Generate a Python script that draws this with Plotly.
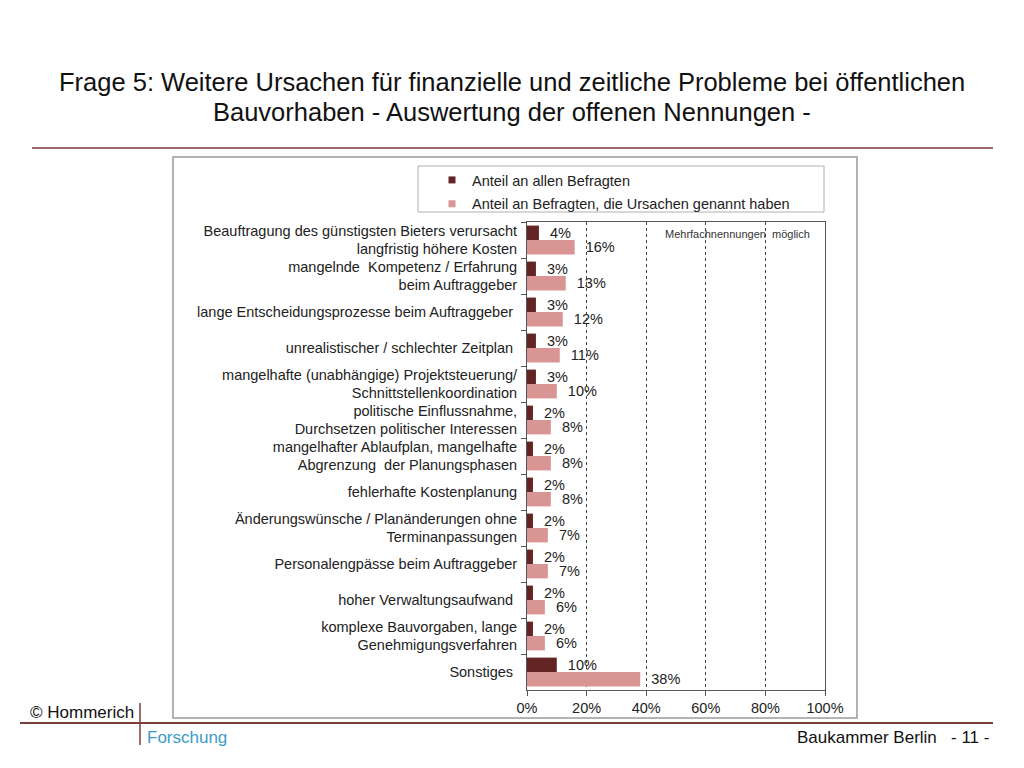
import plotly.graph_objects as go

categories = [
    "Beauftragung des günstigsten Bieters verursacht<br>langfristig höhere Kosten",
    "mangelnde  Kompetenz / Erfahrung<br>beim Auftraggeber",
    "lange Entscheidungsprozesse beim Auftraggeber ",
    "unrealistischer / schlechter Zeitplan ",
    "mangelhafte (unabhängige) Projektsteuerung/<br>Schnittstellenkoordination",
    "politische Einflussnahme,<br>Durchsetzen politischer Interessen",
    "mangelhafter Ablaufplan, mangelhafte<br>Abgrenzung  der Planungsphasen",
    "fehlerhafte Kostenplanung",
    "Änderungswünsche / Planänderungen ohne<br>Terminanpassungen",
    "Personalengpässe beim Auftraggeber",
    "hoher Verwaltungsaufwand ",
    "komplexe Bauvorgaben, lange<br>Genehmigungsverfahren",
    "Sonstiges ",
]
share_all = [4, 3, 3, 3, 3, 2, 2, 2, 2, 2, 2, 2, 10]
share_named = [16, 13, 12, 11, 10, 8, 8, 8, 7, 7, 6, 6, 38]
series_names = ["Anteil an allen Befragten", "Anteil an Befragten, die Ursachen genannt haben"]
x_ticks = [0, 20, 40, 60, 80, 100]
x_ticktext = ["0%", "20%", "40%", "60%", "80%", "100%"]

DARK = "#632523"
LIGHT = "#d99594"
FONT = "Liberation Sans, Arial, sans-serif"

# plot area in page pixels (reference coordinates)
L, R, T, B = 527, 825, 222, 690
W, H = 1024, 768
OFF = 8  # page body margin


def px(x):
    return (x - L) / (R - L)


def py(y):
    return (B - y) / (B - T)


fig = go.Figure()
for name, vals, col in [(series_names[0], share_all, DARK), (series_names[1], share_named, LIGHT)]:
    fig.add_trace(go.Bar(
        y=categories, x=vals, orientation="h", name=name,
        marker=dict(color=col, line=dict(width=0)),
        text=["\u00a0\u00a0" + f"{v}%" for v in vals], textposition="outside",
        constraintext="none",
        textfont=dict(size=14.5, color="#222", family=FONT),
        cliponaxis=False, showlegend=False,
    ))
    fig.add_trace(go.Scatter(
        x=[None], y=[None], mode="markers", name=name, legendgroup=name,
        marker=dict(symbol="square", size=7, color=col),
    ))

shapes = [
    dict(type="rect", xref="paper", yref="paper", x0=px(173), x1=px(857), y0=py(157), y1=py(718),
         line=dict(color="#9a9a9a", width=1.5), layer="below"),
    dict(type="rect", xref="paper", yref="paper", x0=px(418), x1=px(824), y0=py(166), y1=py(212),
         line=dict(color="#b0b0b0", width=1)),
    dict(type="line", xref="paper", yref="paper", x0=px(32), x1=px(993), y0=py(148), y1=py(148),
         line=dict(color="#7b3535", width=1.5)),
    dict(type="line", xref="paper", yref="paper", x0=px(20), x1=px(993), y0=py(723), y1=py(723),
         line=dict(color="#7b3c3c", width=2)),
    dict(type="line", xref="paper", yref="paper", x0=px(140), x1=px(140), y0=py(703), y1=py(745),
         line=dict(color="#7b3c3c", width=1.5)),
]

annotations = [
    dict(text="Frage 5: Weitere Ursachen für finanzielle und zeitliche Probleme bei öffentlichen",
         x=px(512), y=py(82), xanchor="center", yanchor="middle", showarrow=False,
         font=dict(size=25.5, color="#111", family=FONT)),
    dict(text="Bauvorhaben - Auswertung der offenen Nennungen -",
         x=px(512), y=py(112), xanchor="center", yanchor="middle", showarrow=False,
         font=dict(size=25.5, color="#111", family=FONT)),
    dict(text="Mehrfachnennungen  möglich", x=px(663), y=py(234), xanchor="left", yanchor="middle",
         showarrow=False, font=dict(size=11, color="#333", family=FONT)),
    dict(text="© Hommerich", x=px(136), y=py(712), xanchor="right", yanchor="middle",
         showarrow=False, font=dict(size=17, color="#111", family=FONT)),
    dict(text="Forschung", x=px(145), y=py(737), xanchor="left", yanchor="middle",
         showarrow=False, font=dict(size=17, color="#3a9cc8", family=FONT)),
    dict(text="Baukammer Berlin   - 11 -", x=px(991), y=py(737), xanchor="right", yanchor="middle",
         showarrow=False, font=dict(size=17, color="#111", family=FONT)),
]
for a in annotations:
    a.update(xref="paper", yref="paper")

fig.update_layout(
    width=W - OFF, height=H - OFF,
    margin=dict(l=L - OFF, r=(W - OFF) - (R - OFF), t=T - OFF, b=(H - OFF) - (B - OFF), pad=0),
    paper_bgcolor="white", plot_bgcolor="white",
    barmode="group", bargap=0.2, bargroupgap=0.0,
    font=dict(family=FONT, color="#222", size=14.5),
    shapes=shapes, annotations=annotations,
    legend=dict(x=px(432), y=py(164), xanchor="left", yanchor="top",
                bgcolor="rgba(0,0,0,0)", borderwidth=0,
                font=dict(size=14.5, color="#222", family=FONT),
                traceorder="grouped", tracegroupgap=2, itemwidth=30),
    xaxis=dict(range=[0, 100], tickvals=x_ticks, ticktext=x_ticktext, showgrid=True,
               gridcolor="#444", griddash="dot", gridwidth=1,
               showline=True, linecolor="#555", linewidth=1, mirror=True,
               ticks="outside", ticklen=5, tickcolor="#555", zeroline=False,
               tickfont=dict(size=14.5, color="#222")),
    yaxis=dict(autorange="reversed", showline=True, linecolor="#555", linewidth=1, mirror=True,
               ticks="outside", ticklen=5, tickcolor="#555", tickson="boundaries",
               showgrid=False, tickfont=dict(size=14.5, color="#222"), ticklabelstandoff=6),
)

fig.write_html("out.html")
